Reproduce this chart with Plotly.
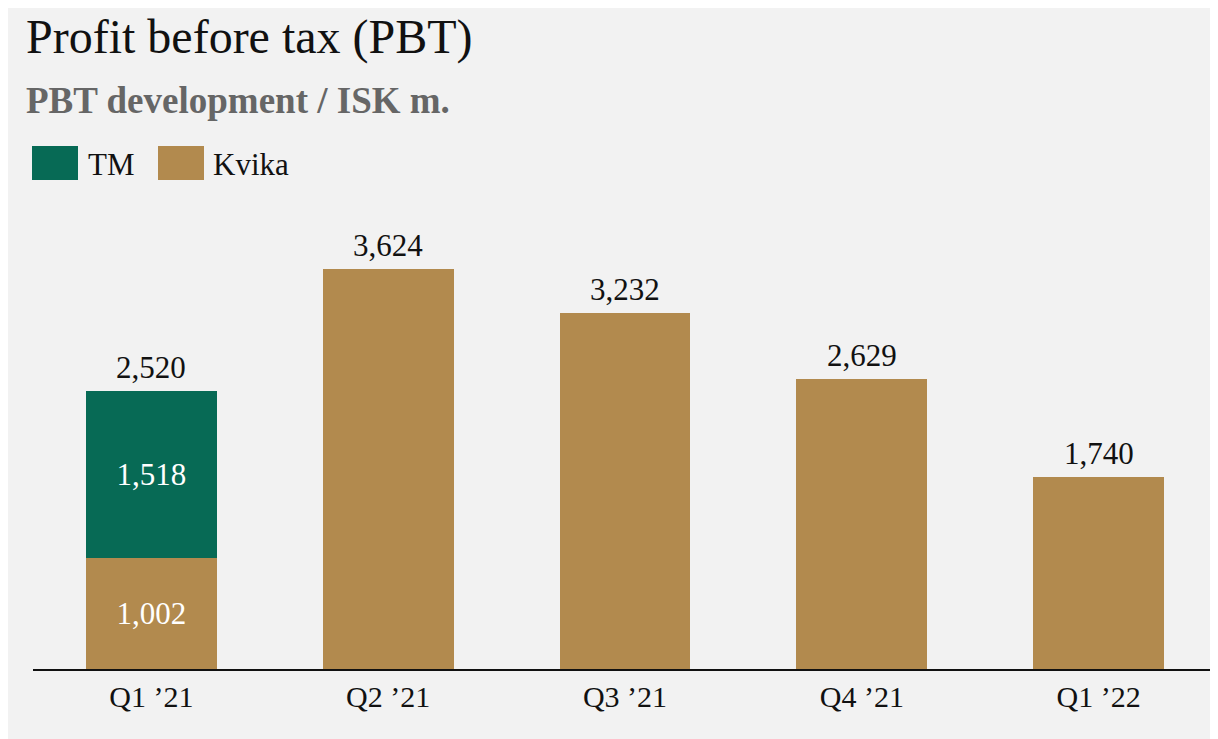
import plotly.graph_objects as go

categories = ["Q1 \u201921", "Q2 \u201921", "Q3 \u201921", "Q4 \u201921", "Q1 \u201922"]
tm_values = [1518, None, None, None, None]
kvika_values = [1002, 3624, 3232, 2629, 1740]
series_names = ["TM", "Kvika"]
title_text = "Profit before tax (PBT)"
subtitle_text = "PBT development / ISK m."

GREEN = "#076a55"
GOLD = "#b28a4e"
BG = "#f2f2f2"
FONT = "Liberation Serif"

OFF = 8  # page body margin
W, H = 1210, 731
ML, MR, MT, MB = 25, 1, 192, 70
PW, PH = W - ML - MR, H - MT - MB


def px_x(sx):
    return (sx - OFF - ML) / PW


def px_y(sy):
    return (H - MB - (sy - OFF)) / PH


totals = [(t or 0) + (k or 0) for t, k in zip(tm_values, kvika_values)]
fmt = lambda v: f"{v:,}"

fig = go.Figure()
fig.add_trace(go.Bar(
    x=categories, y=kvika_values, name=series_names[1], marker_color=GOLD,
    marker_line_width=0,
    text=[fmt(k) if t else "" for t, k in zip(tm_values, kvika_values)],
    textposition="inside", insidetextanchor="middle",
    textfont=dict(family=FONT, size=31, color="white"),
))
fig.add_trace(go.Bar(
    x=categories, y=tm_values, name=series_names[0], marker_color=GREEN,
    marker_line_width=0,
    text=[fmt(t) if t else "" for t in tm_values],
    textposition="inside", insidetextanchor="middle",
    textfont=dict(family=FONT, size=31, color="white"),
))

annotations = []
for c, tot in zip(categories, totals):
    annotations.append(dict(
        x=c, y=tot, xref="x", yref="y", text=fmt(tot), showarrow=False,
        yanchor="bottom", yshift=4, font=dict(family=FONT, size=31, color="#111"),
    ))

# title & subtitle
annotations.append(dict(
    x=px_x(24), y=px_y(8), xref="paper", yref="paper", xanchor="left", yanchor="top",
    text=title_text, showarrow=False, font=dict(family=FONT, size=48, color="#111"),
))
annotations.append(dict(
    x=px_x(24), y=px_y(78), xref="paper", yref="paper", xanchor="left", yanchor="top",
    text=f"<b>{subtitle_text}</b>", showarrow=False, font=dict(family=FONT, size=37, color="#666666"),
))

shapes = []
# legend
legend_items = [(series_names[0], GREEN, 32, 86), (series_names[1], GOLD, 158, 211)]
for name, col, sx, tx in legend_items:
    shapes.append(dict(type="rect", xref="paper", yref="paper", x0=px_x(sx), x1=px_x(sx + 46),
                       y0=px_y(180), y1=px_y(146), fillcolor=col, line_width=0, layer="below"))
    annotations.append(dict(
        x=px_x(tx), y=px_y(164), xref="paper", yref="paper", xanchor="left", yanchor="middle",
        text=name, showarrow=False, font=dict(family=FONT, size=31, color="#111"),
    ))

fig.update_layout(
    width=W, height=H,
    margin=dict(l=ML, r=MR, t=MT, b=MB, pad=0),
    paper_bgcolor=BG, plot_bgcolor="rgba(0,0,0,0)",
    barmode="stack", bargap=0.447,
    showlegend=False,
    annotations=annotations, shapes=shapes,
    font=dict(family=FONT, size=30, color="#111"),
)
fig.update_xaxes(showline=True, linecolor="#111", linewidth=2, ticks="",
                 tickfont=dict(family=FONT, size=30, color="#111"), showgrid=False)
fig.update_yaxes(range=[0, PH / 0.1103], visible=False, showgrid=False, zeroline=False)

fig.write_html("out.html")
